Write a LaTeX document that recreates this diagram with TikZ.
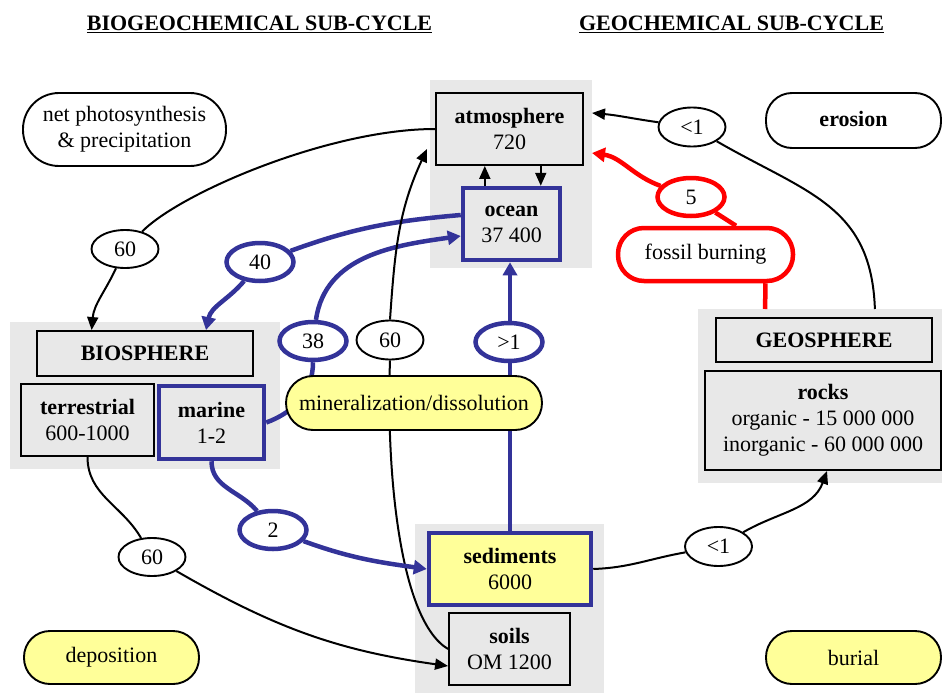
\documentclass[tikz,border=0pt]{standalone}
\usepackage{fontspec}
\setmainfont{Liberation Serif}
\usetikzlibrary{shapes.geometric,arrows.meta,calc}
\definecolor{bgray}{HTML}{E8E8E8}
\definecolor{cblue}{HTML}{333399}
\definecolor{cyel}{HTML}{FFFF99}
\definecolor{cred}{HTML}{FF0000}
\pgfdeclarelayer{back}
\pgfdeclarelayer{mid}
\pgfsetlayers{back,mid,main}
\begin{document}
\begin{tikzpicture}[x=1pt,y=-1pt,
  font=\fontsize{22}{26}\selectfont,
  region/.style={rectangle,fill=bgray,draw=none,inner sep=0,outer sep=0},
  box/.style={rectangle,draw=black,line width=1.9pt,fill=bgray,align=center,inner sep=0},
  bbox/.style={box,draw=cblue,line width=4.5pt},
  pill/.style={rectangle,draw=black,line width=1.9pt,rounded corners=26pt,align=center,inner sep=0,fill=white},
  flux/.style={ellipse,draw=black,line width=1.9pt,fill=white,inner sep=0,minimum width=67pt,minimum height=38pt},
  bflux/.style={flux,draw=cblue,line width=4.5pt},
  rflux/.style={flux,draw=cred,line width=4.5pt},
  lk/.style={line width=2pt,draw=black},
  conn/.style={lk,-{Triangle[length=13pt,width=11pt]}},
  blk/.style={line width=4.5pt,draw=cblue},
  bconn/.style={blk,-{Triangle[length=13pt,width=14pt]}},
  rl/.style={line width=4.5pt,draw=cred},
  rconn/.style={rl,-{Triangle[length=13pt,width=14pt]}}
]
\useasboundingbox (0,0) rectangle (942,693);

% headers
\node[font=\fontsize{22}{26}\selectfont\bfseries] (h1) at (259.5,24) {\underline{BIOGEOCHEMICAL SUB-CYCLE}};
\node[font=\fontsize{22}{26}\selectfont\bfseries] (h2) at (731.5,24) {\underline{GEOCHEMICAL SUB-CYCLE}};

% grey regions
\begin{pgfonlayer}{back}
\node[region,minimum width=162pt,minimum height=188pt] (atmreg) at (511,174) {};
\node[region,minimum width=270pt,minimum height=147pt] (bioreg) at (145,395.5) {};
\node[region,minimum width=189pt,minimum height=169pt] (sedreg) at (509.5,608.5) {};
\node[region,minimum width=244pt,minimum height=174pt] (georeg) at (820,396) {};
\end{pgfonlayer}

% boxes
\node[box,minimum width=147pt,minimum height=72pt] (atm) at (509.5,129) {\textbf{atmosphere}\\720};
\node[bbox,minimum width=97pt,minimum height=72pt] (ocean) at (511.5,224) {\textbf{ocean}\\37 400};
\node[box,minimum width=216pt,minimum height=45pt] (bio) at (145,353.5) {\textbf{BIOSPHERE}};
\node[box,minimum width=133pt,minimum height=72pt] (terr) at (87.5,420) {\textbf{terrestrial}\\600-1000};
\node[bbox,minimum width=105pt,minimum height=73pt] (marine) at (211.5,422.5) {\textbf{marine}\\1-2};
\node[bbox,fill=cyel,minimum width=162pt,minimum height=72pt] (sed) at (510,569) {\textbf{sediments}\\6000};
\node[box,minimum width=121pt,minimum height=72pt] (soils) at (509.5,649) {\textbf{soils}\\OM 1200};
\node[box,minimum width=216pt,minimum height=44pt] (geo) at (824,340) {\textbf{GEOSPHERE}};
\node[box,minimum width=236pt,minimum height=99pt] (rocks) at (823,420.5) {\textbf{rocks}\\organic - 15 000 000\\inorganic - 60 000 000};

% process pills
\node[pill,rounded corners=36pt,minimum width=203pt,minimum height=73pt] (netp) at (124.5,129.5) {net photosynthesis\\\& precipitation};
\node[pill,minimum width=175pt,minimum height=55pt] (eros) at (853.5,120.5) {\raisebox{3pt}{\textbf{erosion}}};
\node[pill,fill=cyel,minimum width=175pt,minimum height=53pt] (depo) at (111.5,657.5) {deposition};
\node[pill,fill=cyel,minimum width=175pt,minimum height=53pt] (buri) at (853.5,657.5) {burial};
\node[pill,fill=cyel,rounded corners=27pt,minimum width=256pt,minimum height=54pt] (mine) at (414,403) {mineralization/dissolution};
\node[pill,draw=cred,line width=4.5pt,minimum width=175pt,minimum height=53pt] (fossil) at (705.5,254.5) {fossil burning};

% flux ellipses
\node[flux] (f60a) at (125,249) {60};
\node[bflux] (f40) at (260,262) {40};
\node[bflux] (f38) at (313,341) {38};
\node[flux,minimum height=39pt] (f60b) at (390,340) {60};
\node[bflux] (fgt) at (509,342) {>1};
\node[bflux] (f2) at (273,530) {2};
\node[flux] (f60c) at (152,557) {60};
\node[flux,minimum height=39pt] (flta) at (692,127) {<1};
\node[rflux] (f5) at (691,197) {5};
\node[flux,minimum height=39pt] (fltb) at (718.5,546.5) {<1};

% connectors
\begin{pgfonlayer}{mid}
% atmosphere -> biosphere
\draw[lk] (atm.west) .. controls +(-106,0) and +(55,-56) .. (f60a);
\draw[conn] (f60a) to[out=245,in=85] ($(bio.north west)!0.255!(bio.north east)$);
% ocean -> biosphere (40)
\draw[blk] ([yshift=9pt]ocean.west) to[out=185,in=20] (f40);
\draw[bconn] (f40) to[out=230,in=78] ($(bio.north west)!0.78!(bio.north east)$);
% marine -> ocean (38)
\draw[blk] (marine.east) to[out=20,in=270] (f38);
\draw[bconn] (f38) to[out=82,in=188] ([yshift=-12pt]ocean.west);
% soils -> atmosphere (60)
\draw[lk] (soils.west) .. controls +(-49,-29) and +(-4,109) .. (f60b.south);
\draw[conn] (f60b.north) to[out=86,in=-115] ($(atm.south west)+(-8,-17)$);
% terrestrial -> soils (60)
\draw[lk] (terr.south) to[out=-90,in=120] (f60c);
\draw[conn] (f60c) to[out=-30,in=172] ([yshift=-17pt]soils.west);
% sediments -> ocean (>1)
\draw[bconn] (sed.north) -- (sed.north |- ocean.south);
% marine -> sediments (2)
\draw[blk] (marine.south) to[out=-90,in=130] (f2);
\draw[bconn] (f2) to[out=-20,in=172] (sed.west);
% sediments -> rocks (<1)
\draw[lk] (sed.east) to[out=2,in=190] (fltb);
\draw[conn] (fltb) to[out=30,in=-110] ([xshift=4pt]rocks.south);
% geosphere -> atmosphere (<1)
\draw[lk] ($(georeg.north west)!0.725!(georeg.north east)$) to[out=92,in=-30,looseness=1.15] (flta);
\draw[conn] (flta) to[out=172,in=-5] ($(atmreg.north east)+(0,33)$);
% fossil burning (5)
\draw[rl] ($(georeg.north west)!0.275!(georeg.north east)$) -- ($(fossil.south west)!0.834!(fossil.south east)$);
\draw[rl] (f5) -- ($(fossil.north west)!0.67!(fossil.north east)$);
\draw[rconn] (f5) to[out=160,in=-8] ($(atmreg.north east)+(0,73)$);
% atmosphere <-> ocean
\coordinate (ao1) at ($(ocean.north west)!0.237!(ocean.north east)$);
\coordinate (ao2) at ($(atm.south west)!0.71!(atm.south east)$);
\draw[conn] (ao1) -- (ao1 |- atm.south);
\draw[conn] (ao2) -- (ao2 |- ocean.north);
\end{pgfonlayer}
\end{tikzpicture}
\end{document}
